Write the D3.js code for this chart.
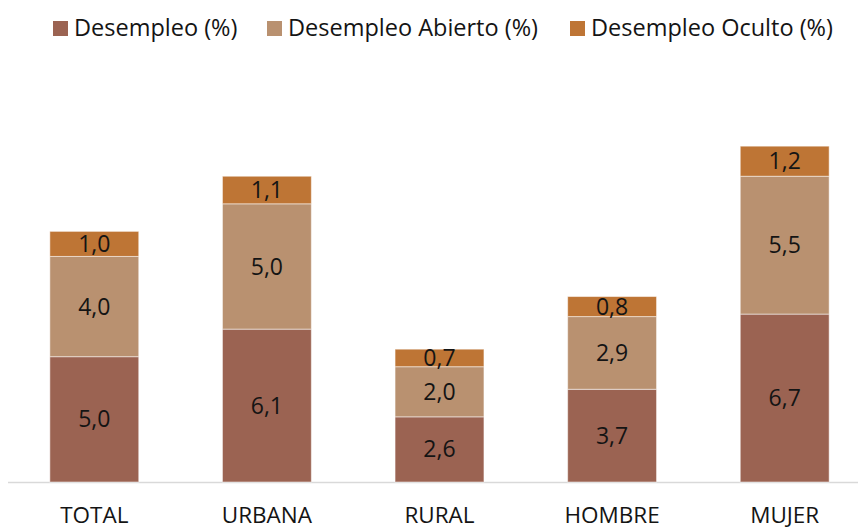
<!DOCTYPE html>
<html>
<head>
<meta charset="utf-8">
<script src="https://cdn.jsdelivr.net/npm/d3@7"></script>
<style>
    body { margin: 0; background: #fff; }
    svg text { font-family: "Open Sans", "Noto Sans", sans-serif; fill: #141414; }
</style>
</head>
<body>
<div id="chart"></div>
<script>
let categories = ['TOTAL', 'URBANA', 'RURAL', 'HOMBRE', 'MUJER'];
let seriesNames = ['Desempleo (%)', 'Desempleo Abierto (%)', 'Desempleo Oculto (%)'];
let desempleo = [5.0, 6.1, 2.6, 3.7, 6.7];
let abierto = [4.0, 5.0, 2.0, 2.9, 5.5];
let oculto = [1.0, 1.1, 0.7, 0.8, 1.2];

let colors = ['#9b6352', '#b99170', '#be7535'];

let width = 858, height = 530;

let svg = d3.select('#chart').append('svg')
    .attr('width', width)
    .attr('height', height);

let x = d3.scaleBand()
    .domain(categories)
    .range([8, 871])
    .paddingInner(0.485)
    .paddingOuter(0.2425);

let y = d3.scaleLinear()
    .domain([0, 16])
    .range([482, 81]);

let rows = categories.map((c, i) => ({cat: c, d0: desempleo[i], d1: abierto[i], d2: oculto[i]}));
let stacked = d3.stack().keys(['d0', 'd1', 'd2'])(rows);

let fmt = v => v.toFixed(1).replace('.', ',');

// baseline
svg.append('line')
    .attr('x1', 8).attr('x2', width)
    .attr('y1', y(0) + 0.5).attr('y2', y(0) + 0.5)
    .style('stroke', '#d9d9d9')
    .style('stroke-width', 1.5);

stacked.forEach((layer, k) => {
    let g = svg.append('g');
    g.selectAll('rect')
        .data(layer)
        .enter().append('rect')
        .attr('x', d => x(d.data.cat))
        .attr('y', d => y(d[1]))
        .attr('width', x.bandwidth())
        .attr('height', d => y(d[0]) - y(d[1]))
        .style('fill', colors[k])
        .style('stroke', '#ffffff')
        .style('stroke-opacity', 0.5)
        .style('stroke-width', 1);

    g.selectAll('text')
        .data(layer)
        .enter().append('text')
        .attr('x', d => x(d.data.cat) + x.bandwidth() / 2)
        .attr('y', d => (y(d[0]) + y(d[1])) / 2)
        .attr('dy', '0.35em')
        .attr('text-anchor', 'middle')
        .style('font-size', '23px')
        .text(d => fmt(d[1] - d[0]));
});

// category labels
svg.append('g').selectAll('text')
    .data(categories)
    .enter().append('text')
    .attr('x', d => x(d) + x.bandwidth() / 2)
    .attr('y', 523)
    .attr('text-anchor', 'middle')
    .style('font-size', '22.5px')
    .text(d => d);

// legend
let legendX = [53, 267, 570];
let legend = svg.append('g');
seriesNames.forEach((name, i) => {
    legend.append('rect')
        .attr('x', legendX[i]).attr('y', 21)
        .attr('width', 15).attr('height', 15)
        .style('fill', colors[i]);
    legend.append('text')
        .attr('x', legendX[i] + 21)
        .attr('y', 28)
        .attr('dy', '0.35em')
        .style('font-size', '23.5px')
        .text(name);
});
</script>
</body>
</html>
